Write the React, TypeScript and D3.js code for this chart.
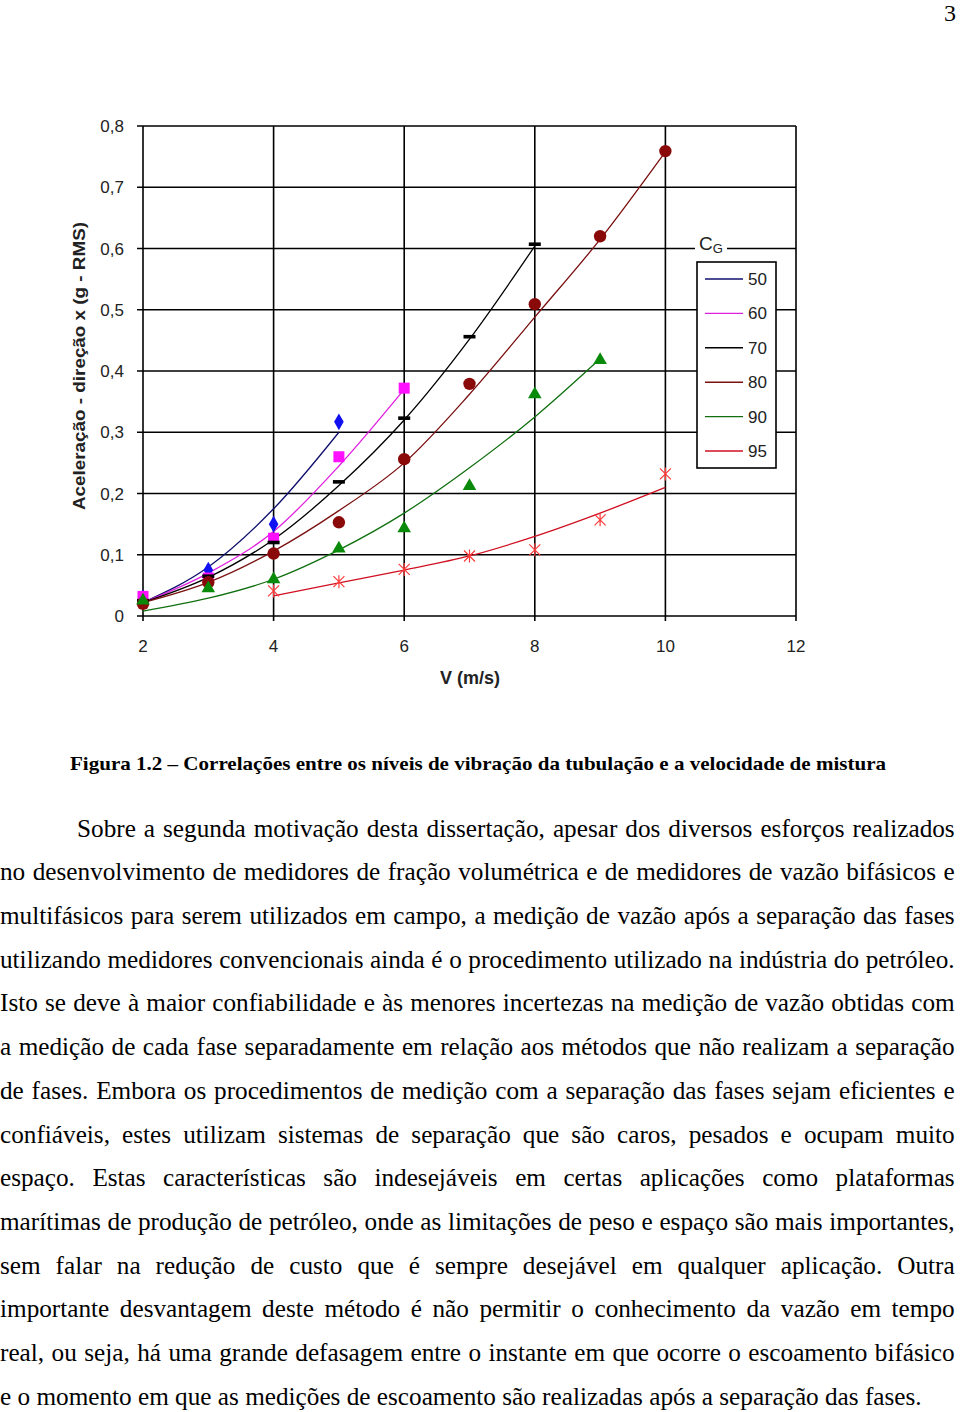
import React from 'react';
import * as d3 from 'd3';

// ---------- Chart data ----------
const xTickValues = [2, 4, 6, 8, 10, 12];
const xTickLabels = ['2', '4', '6', '8', '10', '12'];
const yTickValues = [0, 0.1, 0.2, 0.3, 0.4, 0.5, 0.6, 0.7, 0.8];
const yTickLabels = ['0', '0,1', '0,2', '0,3', '0,4', '0,5', '0,6', '0,7', '0,8'];

const seriesNames = ['50', '60', '70', '80', '90', '95'];

// measured points
const vel50 = [2, 3, 4, 5];
const acc50 = [0.03, 0.075, 0.15, 0.317];
const vel60 = [2, 3, 4, 5, 6];
const acc60 = [0.032, 0.062, 0.127, 0.26, 0.372];
const vel70 = [2, 3, 4, 5, 6, 7, 8];
const acc70 = [0.025, 0.065, 0.12, 0.219, 0.323, 0.456, 0.607];
const vel80 = [2, 3, 4, 5, 6, 7, 8, 9, 10];
const acc80 = [0.02, 0.055, 0.102, 0.153, 0.256, 0.379, 0.509, 0.62, 0.759];
const vel90 = [2, 3, 4, 5, 6, 7, 8, 9];
const acc90 = [0.025, 0.045, 0.06, 0.11, 0.143, 0.212, 0.362, 0.418];
const vel95 = [4, 5, 6, 7, 8, 9, 10];
const acc95 = [0.041, 0.056, 0.076, 0.098, 0.108, 0.157, 0.232];

// correlation curves
const curveV50 = [2, 3, 4, 5];
const curveA50 = [0.022, 0.08, 0.175, 0.3];
const curveV60 = [2, 3, 4, 5, 6];
const curveA60 = [0.022, 0.07, 0.138, 0.245, 0.37];
const curveV70 = [2, 3, 4, 5, 6, 7, 8];
const curveA70 = [0.022, 0.063, 0.125, 0.213, 0.32, 0.452, 0.604];
const curveV80 = [2, 3, 4, 5, 6, 7, 8, 9, 10];
const curveA80 = [0.022, 0.055, 0.106, 0.172, 0.25, 0.362, 0.488, 0.615, 0.758];
const curveV90 = [2, 3, 4, 5, 6, 7, 8, 9];
const curveA90 = [0.008, 0.029, 0.06, 0.108, 0.168, 0.242, 0.325, 0.42];
const curveV95 = [4, 5, 6, 7, 8, 9, 10];
const curveA95 = [0.033, 0.054, 0.075, 0.098, 0.13, 0.168, 0.21];

const pointVel = [vel50, vel60, vel70, vel80, vel90, vel95];
const pointAcc = [acc50, acc60, acc70, acc80, acc90, acc95];
const curveVel = [curveV50, curveV60, curveV70, curveV80, curveV90, curveV95];
const curveAcc = [curveA50, curveA60, curveA70, curveA80, curveA90, curveA95];

const markerColors = ['#1010f0', '#ff10ff', '#000000', '#8a0a0a', '#0a8a0a', '#ff3a3a'];
const lineColors = ['#10106e', '#e020e0', '#000000', '#7a1010', '#107010', '#d01020'];
const markerKinds = ['diamond', 'square', 'dash', 'circle', 'triangle', 'star'];

// ---------- Text ----------
const pageNumber = '3';
const caption = 'Figura 1.2 – Correlações entre os níveis de vibração da tubulação e a velocidade de mistura';
const bodyLines = [
  'Sobre a segunda motivação desta dissertação, apesar dos diversos esforços realizados',
  'no desenvolvimento de medidores de fração volumétrica e de medidores de vazão bifásicos e',
  'multifásicos para serem utilizados em campo, a medição de vazão após a separação das fases',
  'utilizando medidores convencionais ainda é o procedimento utilizado na indústria do petróleo.',
  'Isto se deve à maior confiabilidade e às menores incertezas na medição de vazão obtidas com',
  'a medição de cada fase separadamente em relação aos métodos que não realizam a separação',
  'de fases. Embora os procedimentos de medição com a separação das fases sejam eficientes e',
  'confiáveis, estes utilizam sistemas de separação que são caros, pesados e ocupam muito',
  'espaço. Estas características são indesejáveis em certas aplicações como plataformas',
  'marítimas de produção de petróleo, onde as limitações de peso e espaço são mais importantes,',
  'sem falar na redução de custo que é sempre desejável em qualquer aplicação. Outra',
  'importante desvantagem deste método é não permitir o conhecimento da vazão em tempo',
  'real, ou seja, há uma grande defasagem entre o instante em que ocorre o escoamento bifásico',
  'e o momento em que as medições de escoamento são realizadas após a separação das fases.',
];

const BODY_SIZE = 24.5;
const BODY_FONT = `${BODY_SIZE}px 'Liberation Serif'`;
let measureCtx: CanvasRenderingContext2D | null = null;
function measure(text: string, font: string): number {
  if (!measureCtx) {
    const c = document.createElement('canvas');
    measureCtx = c.getContext('2d');
  }
  if (!measureCtx) return text.length * 10;
  measureCtx.font = font;
  return measureCtx.measureText(text).width;
}

function Marker({ kind, cx, cy, color }: { kind: string; cx: number; cy: number; color: string }) {
  if (kind === 'circle') return <circle cx={cx} cy={cy} r={6.2} fill={color} />;
  if (kind === 'square') return <rect x={cx - 5.5} y={cy - 5.5} width={11} height={11} fill={color} />;
  if (kind === 'dash') return <rect x={cx - 6} y={cy - 1.8} width={12} height={3.6} fill={color} />;
  if (kind === 'diamond') {
    const p = d3.symbol(d3.symbolDiamond, 80)();
    return <path d={p || ''} transform={`translate(${cx},${cy})`} fill={color} />;
  }
  if (kind === 'triangle') {
    const p = d3.symbol(d3.symbolTriangle, 80)();
    return <path d={p || ''} transform={`translate(${cx},${cy})`} fill={color} />;
  }
  // star: x + vertical
  const s = 5.5;
  const d = `M${-s},${-s}L${s},${s}M${-s},${s}L${s},${-s}M0,${-s - 1}L0,${s + 1}`;
  return <path d={d} transform={`translate(${cx},${cy})`} stroke={color} strokeWidth={1.2} fill="none" />;
}

export default function App() {
  const x = d3.scaleLinear().domain([2, 12]).range([143, 796]);
  const y = d3.scaleLinear().domain([0, 0.8]).range([616, 126]);

  const line = d3
    .line<[number, number]>()
    .x((d) => x(d[0]))
    .y((d) => y(d[1]))
    .curve(d3.curveMonotoneX);

  const legendX = 697;
  const legendY = 262;
  const legendRows = d3.scaleLinear().domain([0, 5]).range([279, 451]);

  const bodyStartY = 836.5;
  const bodyStep = 43.72;
  const lastLine = bodyLines[bodyLines.length - 1];
  const sx = 922 / measure(lastLine, BODY_FONT);

  return (
    <svg
      width={960}
      height={1412}
      style={{ position: 'absolute', left: 0, top: 0, background: '#fff' }}
    >
      <rect x={0} y={0} width={960} height={1412} fill="#fff" />
      <text x={956} y={21} textAnchor="end" fontFamily="'Liberation Serif'" fontSize={24} fill="#000">
        {pageNumber}
      </text>

      {/* grid */}
      <g stroke="#000" strokeWidth={1.6}>
        {yTickValues.map((v) => (
          <line key={'h' + v} x1={137} x2={796} y1={y(v)} y2={y(v)} />
        ))}
        {xTickValues.map((v) => (
          <line key={'v' + v} x1={x(v)} x2={x(v)} y1={y(0.8)} y2={y(0) + 5} />
        ))}
      </g>

      {/* tick labels */}
      <g fontFamily="'Liberation Sans', Arial" fontSize={17} fill="#222">
        {yTickValues.map((v, i) => (
          <text key={'yl' + v} x={124} y={y(v) + 6} textAnchor="end">
            {yTickLabels[i]}
          </text>
        ))}
        {xTickValues.map((v, i) => (
          <text key={'xl' + v} x={x(v)} y={652} textAnchor="middle" fontSize={17}>
            {xTickLabels[i]}
          </text>
        ))}
      </g>

      <text x={470} y={684} textAnchor="middle" fontFamily="'Liberation Sans', Arial" fontWeight="bold" fontSize={18} fill="#222">
        V (m/s)
      </text>
      <text
        transform="translate(85,366) rotate(-90)"
        textAnchor="middle"
        fontFamily="'Liberation Sans', Arial"
        fontWeight="bold"
        fontSize={16}
        fill="#222"
        textLength={288}
        lengthAdjust="spacingAndGlyphs"
      >
        Aceleração - direção x (g - RMS)
      </text>

      {/* curves */}
      {seriesNames.map((name, i) => (
        <path
          key={'c' + name}
          d={line(curveVel[i].map((v, j) => [v, curveAcc[i][j]] as [number, number])) || ''}
          fill="none"
          stroke={lineColors[i]}
          strokeWidth={1.3}
        />
      ))}

      {/* markers */}
      {seriesNames.map((name, i) => (
        <g key={'m' + name}>
          {pointVel[i].map((v, j) => (
            <Marker key={j} kind={markerKinds[i]} cx={x(v)} cy={y(pointAcc[i][j])} color={markerColors[i]} />
          ))}
        </g>
      ))}

      {/* legend */}
      <rect x={695} y={231} width={32} height={22} fill="#fff" />
      <text x={699} y={250} fontFamily="'Liberation Sans', Arial" fontSize={19} fill="#222">
        C
        <tspan fontSize={13} dy={3}>G</tspan>
      </text>
      <rect x={legendX} y={legendY} width={79} height={206} fill="#fff" stroke="#000" strokeWidth={1.6} />
      {seriesNames.map((name, i) => (
        <g key={'lg' + name}>
          <line x1={705} x2={743} y1={legendRows(i)} y2={legendRows(i)} stroke={lineColors[i]} strokeWidth={1.4} />
          <text x={748} y={legendRows(i) + 6} fontFamily="'Liberation Sans', Arial" fontSize={17} fill="#222">
            {name}
          </text>
        </g>
      ))}

      {/* caption */}
      <text
        x={70}
        y={770}
        fontFamily="'Liberation Serif'"
        fontWeight="bold"
        fontSize={19}
        fill="#000"
        textLength={816}
        lengthAdjust="spacingAndGlyphs"
      >
        {caption}
      </text>

      {/* body text */}
      <g fontFamily="'Liberation Serif'" fontSize={BODY_SIZE} fill="#000">
        {bodyLines.map((t, i) => {
          const startX = i === 0 ? 77 : 0;
          const endX = i === bodyLines.length - 1 ? 922 : 955;
          const target = (endX - startX) / sx;
          const natural = measure(t, BODY_FONT);
          const spaces = (t.match(/ /g) || []).length;
          const ws = spaces > 0 && i !== bodyLines.length - 1 ? (target - natural) / spaces : 0;
          return (
            <text
              key={'b' + i}
              transform={`translate(${startX},${bodyStartY + i * bodyStep}) scale(${sx},1)`}
              style={{ wordSpacing: `${ws}px` }}
            >
              {t}
            </text>
          );
        })}
      </g>
    </svg>
  );
}
